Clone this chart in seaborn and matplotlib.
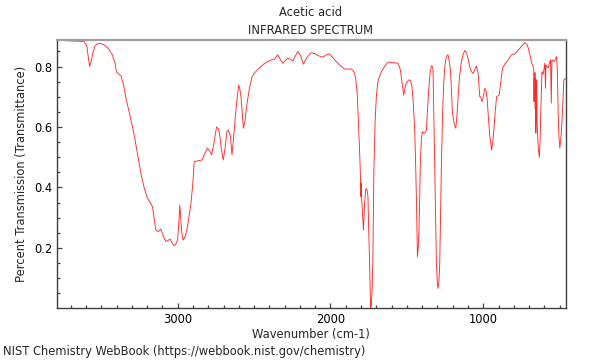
import numpy as np
import pandas as pd
import matplotlib
matplotlib.use("Agg")
import matplotlib.pyplot as plt
import seaborn as sns
from matplotlib.ticker import MultipleLocator

# Spectrum (wavenumber in cm-1, transmittance)
wavenumber = [
    3795, 3711, 3613, 3595, 3585, 3576, 3565, 3555, 3540, 3519, 3495, 3471, 3450, 3428,
    3410, 3401, 3385, 3372, 3355, 3340, 3318, 3296, 3280, 3264, 3241, 3220, 3198, 3180,
    3165, 3155, 3143, 3128, 3110, 3095, 3077, 3063, 3049, 3035, 3023, 3010, 3001, 2993,
    2986, 2978, 2970, 2964, 2950, 2936, 2913, 2900, 2892, 2870, 2841, 2825, 2805, 2790,
    2778, 2765, 2746, 2735, 2728, 2715, 2702, 2690, 2678, 2668, 2655, 2645, 2635, 2623,
    2610, 2601, 2593, 2586, 2577, 2570, 2560, 2549, 2530, 2513, 2490, 2466, 2440, 2411,
    2385, 2367, 2346, 2330, 2313, 2295, 2280, 2265, 2247, 2230, 2214, 2195, 2177, 2155,
    2127, 2100, 2075, 2050, 2030, 2007, 1985, 1963, 1940, 1908, 1885, 1864, 1850, 1843,
    1835, 1825, 1815, 1808, 1803, 1801, 1799, 1796, 1784, 1777, 1770, 1766, 1760, 1755,
    1750, 1744, 1740, 1737, 1733, 1728, 1723, 1716, 1708, 1700, 1690, 1679, 1665, 1646,
    1624, 1595, 1559, 1550, 1543, 1530, 1521, 1512, 1504, 1490, 1482, 1475, 1467, 1458,
    1449, 1443, 1438, 1434, 1431, 1426, 1421, 1416, 1412, 1405, 1399, 1390, 1384, 1378,
    1372, 1365, 1357, 1348, 1340, 1333, 1329, 1324, 1318, 1312, 1307, 1300, 1296, 1290,
    1285, 1280, 1274, 1266, 1259, 1252, 1246, 1238, 1231, 1224, 1215, 1208, 1202, 1190,
    1180, 1172, 1165, 1155, 1143, 1132, 1121, 1110, 1100, 1089, 1078, 1067, 1055, 1045,
    1034, 1023, 1018, 1008, 1000, 990, 982, 975, 965, 957, 946, 938, 931, 922,
    913, 896, 885, 874, 860, 844, 830, 815, 793, 770, 750, 735, 728, 720,
    713, 705, 695, 685, 678, 670, 668, 666, 664, 662, 660, 658, 656, 654,
    651, 648, 645, 640, 633, 628, 622, 616, 608, 600, 597, 593, 590, 582,
    575, 568, 560, 555, 551, 548, 535, 527, 520, 515, 510, 505, 499, 493,
    488, 480, 473, 460,
]
transmittance = [
    0.887, 0.885, 0.883, 0.870, 0.830, 0.800, 0.820, 0.845, 0.870, 0.877, 0.875, 0.868, 0.857, 0.839,
    0.810, 0.783, 0.775, 0.770, 0.740, 0.700, 0.650, 0.600, 0.560, 0.513, 0.447, 0.400, 0.364, 0.350,
    0.336, 0.300, 0.259, 0.254, 0.262, 0.240, 0.221, 0.225, 0.229, 0.215, 0.207, 0.215, 0.226, 0.280,
    0.342, 0.280, 0.235, 0.226, 0.240, 0.270, 0.348, 0.420, 0.485, 0.488, 0.491, 0.510, 0.530, 0.520,
    0.508, 0.540, 0.600, 0.595, 0.585, 0.530, 0.491, 0.530, 0.585, 0.590, 0.570, 0.508, 0.560, 0.634,
    0.700, 0.739, 0.725, 0.700, 0.640, 0.596, 0.620, 0.668, 0.730, 0.767, 0.783, 0.795, 0.807, 0.817,
    0.822, 0.825, 0.839, 0.825, 0.811, 0.820, 0.828, 0.825, 0.819, 0.835, 0.850, 0.835, 0.808, 0.830,
    0.846, 0.842, 0.835, 0.831, 0.838, 0.842, 0.830, 0.817, 0.805, 0.792, 0.792, 0.792, 0.785, 0.778,
    0.760, 0.712, 0.590, 0.500, 0.420, 0.370, 0.415, 0.360, 0.259, 0.348, 0.390, 0.397, 0.390, 0.370,
    0.260, 0.150, 0.050, 0.003, 0.010, 0.060, 0.150, 0.458, 0.620, 0.700, 0.750, 0.767, 0.785, 0.800,
    0.815, 0.813, 0.811, 0.800, 0.789, 0.740, 0.706, 0.730, 0.745, 0.755, 0.756, 0.750, 0.734, 0.680,
    0.590, 0.480, 0.370, 0.250, 0.171, 0.200, 0.259, 0.370, 0.480, 0.560, 0.585, 0.580, 0.579, 0.585,
    0.590, 0.660, 0.723, 0.780, 0.802, 0.800, 0.789, 0.650, 0.480, 0.300, 0.149, 0.080, 0.066, 0.090,
    0.150, 0.300, 0.480, 0.650, 0.745, 0.800, 0.822, 0.835, 0.839, 0.820, 0.789, 0.720, 0.646, 0.610,
    0.596, 0.640, 0.700, 0.770, 0.817, 0.840, 0.853, 0.845, 0.828, 0.800, 0.783, 0.778, 0.790, 0.802,
    0.778, 0.700, 0.700, 0.684, 0.700, 0.728, 0.720, 0.695, 0.620, 0.568, 0.524, 0.550, 0.590, 0.650,
    0.700, 0.706, 0.750, 0.795, 0.808, 0.817, 0.828, 0.839, 0.842, 0.855, 0.866, 0.875, 0.879, 0.876,
    0.872, 0.860, 0.839, 0.815, 0.805, 0.795, 0.684, 0.760, 0.700, 0.780, 0.660, 0.760, 0.580, 0.700,
    0.756, 0.620, 0.580, 0.530, 0.500, 0.560, 0.679, 0.783, 0.775, 0.800, 0.811, 0.728, 0.805, 0.800,
    0.795, 0.810, 0.822, 0.679, 0.822, 0.822, 0.817, 0.825, 0.833, 0.780, 0.646, 0.570, 0.530, 0.560,
    0.590, 0.670, 0.756, 0.760,
]

df = pd.DataFrame({"Wavenumber": wavenumber, "Transmittance": transmittance})

sns.set_style("ticks")
plt.rcParams["font.family"] = ["DejaVu Sans"]
plt.rcParams["font.size"] = 8.3

fig = plt.figure(figsize=(6, 3.6), dpi=100)
ax = fig.add_axes([0.095, 0.145, 0.848, 0.744])

sns.lineplot(data=df, x="Wavenumber", y="Transmittance", sort=False,
             estimator=None, color="#ff2a2a", linewidth=0.65, ax=ax)

ax.set_xlim(3790, 460)
ax.set_ylim(0.002, 0.888)
ax.xaxis.set_major_locator(MultipleLocator(1000))
ax.xaxis.set_minor_locator(MultipleLocator(100))
ax.yaxis.set_major_locator(MultipleLocator(0.2))
ax.yaxis.set_minor_locator(MultipleLocator(0.05))
ax.tick_params(which="both", direction="in", colors="#404040", labelcolor="black",
               labelsize=8.3, top=False, right=False)
ax.tick_params(which="major", length=3.5, width=0.9)
ax.tick_params(which="minor", length=2.5, width=0.9)

for side in ["left", "bottom", "right"]:
    ax.spines[side].set_visible(True)
    ax.spines[side].set_color("#404040")
    ax.spines[side].set_linewidth(1.0)
ax.spines["top"].set_visible(True)
ax.spines["top"].set_color("#a0a0a0")
ax.spines["top"].set_linewidth(1.6)

ax.set_xlabel("Wavenumber (cm-1)", fontsize=8.3, labelpad=2)
ax.set_ylabel("Percent Transmission (Transmittance)", fontsize=8.3, labelpad=4)

fig.text(0.518, 1 - 12 / 360, "Acetic acid", ha="center", va="center", fontsize=8.3)
fig.text(0.518, 1 - 30 / 360, "INFRARED SPECTRUM", ha="center", va="center", fontsize=8.3)
fig.text(0.005, 1 - 352 / 360, "NIST Chemistry WebBook (https://webbook.nist.gov/chemistry)",
         ha="left", va="center", fontsize=8.3)

fig.savefig("out.png", dpi=100)
